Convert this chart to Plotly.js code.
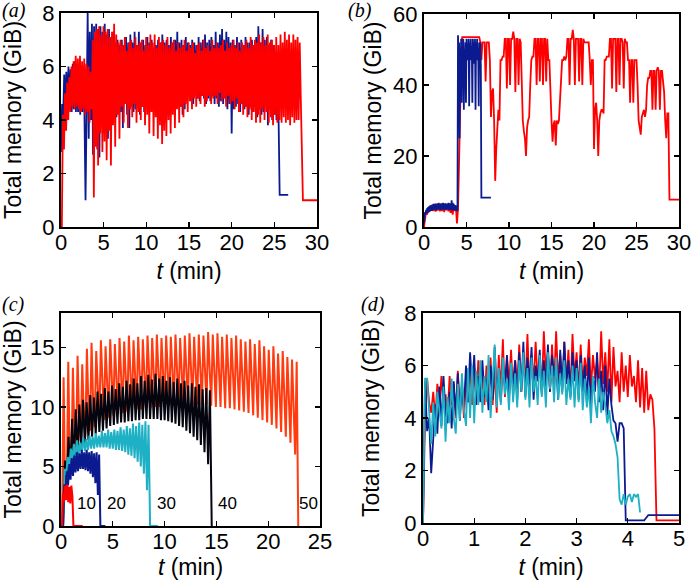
<!DOCTYPE html>
<html><head><meta charset="utf-8">
<script src="https://cdn.plot.ly/plotly-3.0.1.min.js"></script>
<style>html,body{margin:0;padding:0;background:#fff}#chart{width:692px;height:580px}</style>
</head><body><div id="chart"></div>
<script>
// ---------- sampling (start time, interval in min) ----------
const dtA = 0.125, t0RedA = 0.1, t0BlueA = 0;
const dtRedB = 0.125, t0RedB = 0, dtBlueB = 0.0625, t0BlueB = 0;
const dtOrangeC = 0.15, t0OrangeC = 0.1;
const dtBlackC = 0.175, t0BlackC = 0.2;
const dtCyanC = 0.15, t0CyanC = 0.2;
const dtNavyC = 0.12, t0NavyC = 0.2;
const dtRedC = 0.1, t0RedC = 0.1;
const dtD = 0.04, t0D = 0;

// ---------- panel (a) : total memory (GiB) ----------
const redA = [
 0,4.2,2.9,5.0,3.6,5.4,4.0,5.6,
 4.3,6.0,4.5,6.2,4.4,6.4,4.5,6.3,
 4.4,6.4,4.3,6.2,4.4,6.3,4.2,6.1,
 4.3,6.0,3.9,5.8,4.4,7.0,1.1,7.3,
 3.0,7.4,2.3,7.5,3.5,7.2,2.8,7.5,
 3.2,7.3,2.5,7.4,3.6,7.1,2.3,7.3,
 3.8,7.6,3.0,7.2,4.2,6.9,3.3,7.0,
 4.5,6.8,3.9,7.1,4.6,6.6,3.7,6.9,
 4.4,7.0,4.1,6.7,4.6,7.1,3.9,6.8,
 4.3,6.9,4.0,7.0,4.5,6.6,3.8,7.1,
 4.2,6.8,3.5,7.2,4.3,6.9,3.4,7.2,
 4.1,6.7,3.3,7.1,3.8,6.9,3.1,7.0,
 3.6,6.8,3.4,7.1,4.0,6.7,3.5,6.9,
 4.2,7.0,3.7,6.6,4.4,6.9,3.9,6.7,
 4.5,6.8,4.1,7.0,4.6,6.6,4.3,6.9,
 4.7,6.7,4.4,6.9,4.8,6.5,4.5,6.8,
 4.8,6.9,4.6,6.6,4.9,7.0,4.5,6.7,
 4.7,6.8,4.9,6.6,4.6,7.0,4.8,6.7,
 4.9,6.9,4.6,6.7,5.0,6.8,4.7,7.0,
 4.8,6.6,4.5,6.9,4.9,6.7,4.6,6.8,
 4.7,7.0,4.4,6.7,4.8,6.9,4.3,6.6,
 4.6,6.9,4.2,6.8,4.5,7.0,4.1,6.7,
 4.4,7.1,4.0,6.8,4.3,7.0,3.9,6.9,
 4.2,7.2,3.9,6.9,4.4,7.1,4.0,6.8,
 4.3,7.2,3.9,6.9,4.1,7.0,3.8,6.8,
 4.2,7.1,3.9,6.8,4.0,7.2,3.9,6.9,
 4.1,7.3,3.9,7.0,4.0,7.2,3.8,6.9,
 4.1,7.2,3.9,7.0,4.0,7.1,4.0,6.9,
 4.8,3.0,1.0,1.0,1.0,1.0,1.0,1.0,1.0,1.0,1.0,1.0,1.0,1.0,1.0,1.0,1.0
];
const blueA = [
 2.8,4.6,4.0,5.7,4.5,5.8,4.4,6.0,
 4.5,5.9,4.3,6.1,4.4,6.2,4.3,6.0,
 4.3,6.1,4.2,6.0,4.3,5.9,4.2,1.0,
 4.4,8.0,3.3,7.3,4.0,7.6,2.7,7.5,
 3.4,7.6,2.9,7.4,2.6,7.5,3.8,7.3,
 3.5,7.6,4.0,7.2,3.3,7.4,4.2,7.1,
 4.0,7.3,4.4,6.9,4.1,7.0,4.5,6.8,
 4.3,7.0,3.7,6.8,4.6,7.1,4.2,6.9,
 3.7,7.2,4.5,6.9,4.3,7.3,4.4,6.8,
 4.6,7.3,4.2,6.9,4.5,7.0,4.3,6.8,
 4.6,7.1,4.4,6.9,4.5,7.0,4.7,6.7,
 4.4,6.8,4.6,7.0,4.5,6.9,4.7,7.2,
 4.8,6.9,4.5,7.0,4.7,6.8,4.6,7.1,
 4.8,6.9,4.6,7.0,4.7,7.3,4.8,6.9,
 4.5,7.0,4.2,6.8,4.4,7.1,4.7,6.9,
 4.9,6.8,4.7,7.0,4.6,6.9,5.0,6.8,
 4.8,7.1,4.7,6.9,4.9,7.0,4.8,7.2,
 4.6,6.9,4.8,7.0,4.7,7.1,4.9,6.8,
 4.6,7.3,4.8,6.9,4.5,7.2,4.7,7.4,
 4.6,7.0,4.8,7.3,4.4,7.1,4.6,6.9,
 3.5,7.0,4.4,6.8,4.5,7.1,4.6,6.9,
 4.3,7.0,4.6,6.8,4.4,7.1,4.5,6.9,
 4.2,6.9,4.5,7.0,4.3,6.8,4.5,7.1,
 4.1,7.5,4.4,6.9,4.2,7.4,4.3,7.0,
 4.5,7.1,3.8,6.8,4.4,7.0,4.0,6.8,
 4.2,6.5,4.0,5.0,4.0,1.2,1.2,1.2,1.2,1.2,1.2,1.2,1.2,1.2
];

// ---------- panel (b) ----------
const redB = [
 0,3.0,4.5,3.5,5.5,4.2,6.0,4.8,
 6.2,4.5,6.5,4.3,6.3,4.6,6.8,4.4,
 6.4,4.5,6.6,4.2,6.5,4.7,6.3,4.4,
 6.5,4.0,6.2,3.5,6.0,4.5,6.0,1.0,
 5,18,35,47,53.5,53.5,53.5,53.5,
 53.5,53.5,53.5,53.5,53.5,53.5,53.5,53.5,
 53.5,53.5,53.5,53.5,53.5,52,47,52,
 52,52,41,52,52,52,47,31,
 38,39,30,13,22,28,33,30,
 47,47,48,48,53,53,39,53,
 53,40,53,53,55,53,38,53,
 53,40,53,52,40,30,27,25,
 20,28,30,31,40,47,48,48,
 53,53,40,53,53,41,53,53,
 40,53,53,41,53,47,47,36,
 30,24,29,30,23,30,29,30,
 35,40,47,47,48,47,48,53,
 53,40,53,53,55.5,53,40,53,
 53,53,41,53,53,40,53,52,
 52,52,52,52,47,40,47,47,
 22,33,35,30,20,30,32,33,
 33,32,47,47,48,48,48,53,
 53,39,53,53,53,38,53,53,
 40,53,53,52,39,53,52,52,
 47,47,35,47,47,35,47,47,
 47,40,30,28,26,31,32,33,
 31,33,40,42,42,44,44,33,
 44,44,33,44,45,44,33,44,
 44,40,38,30,25,32,32,7.7,
 7.7,7.7,7.7,7.7,7.7,7.7,7.7,7.7,7.7
];
const blueB = [
 1.0,3.0,4.2,3.5,4.8,3.8,5.3,4.0,5.6,4.3,5.9,4.4,6.0,4.6,6.2,4.5,
 6.3,4.8,6.5,4.9,6.4,5.0,6.6,4.7,6.5,5.0,6.7,4.9,6.6,5.1,6.5,4.8,
 6.7,5.0,6.6,4.9,6.8,5.1,6.5,4.8,6.7,5.0,6.6,4.9,6.5,5.1,6.8,4.8,
 6.7,5.0,6.6,4.8,7.5,4.6,6.8,4.9,6.5,4.7,6.2,4.8,6.0,4.5,5.8,4.5,
 54,48,52,25,50,47,53,35,51,48,53,33,50,47,52,35,
 53,48,51,47,53,34,52,48,53,47,51,35,53,48,52,46,
 53,33,52,48,53,47,50,34,52,48,52,45,8.3,8.3,8.3,8.3,
 8.3,8.3,8.3,8.3,8.3,8.3,8.3,8.3,8.3,8.3,8.3,8.3,8.3,8.3,8.3
];

// ---------- panel (c) ----------
const orangeC = [
 0,12.5,3.0, 2.5,13.8,5.5, 5.0,13.3,7.5, 6.2,14.3,8.8, 7.0,13.6,9.4,
 7.6,14.9,10.0, 8.0,15.4,10.5, 8.3,14.7,10.9, 8.7,15.6,11.3, 8.9,15.1,11.6,
 9.1,15.7,11.8, 9.3,15.3,12.0, 9.4,15.8,12.2, 9.5,15.5,12.4, 9.6,16.0,12.5,
 9.7,15.6,12.6, 9.8,15.9,12.7, 9.8,15.7,12.8, 9.9,16.0,12.9, 9.9,15.8,12.9,
 10.0,16.1,13.0, 10.0,15.8,13.0, 10.0,16.0,13.1, 10.1,15.9,13.1, 10.1,16.1,13.2,
 10.1,15.8,13.2, 10.2,16.0,13.2, 10.2,16.2,13.3, 10.2,15.9,13.3, 10.2,16.1,13.3,
 10.2,16.0,13.3, 10.2,16.3,13.3, 10.1,16.1,13.2, 10.0,16.2,13.2, 10.0,15.9,13.1,
 9.9,16.1,13.0, 9.9,15.8,12.9, 9.8,16.0,12.8, 9.7,15.7,12.7, 9.6,15.5,12.6,
 9.5,15.7,12.4, 9.3,15.3,12.2, 9.1,15.6,12.0, 8.9,15.1,11.7, 8.7,14.8,11.4,
 8.5,15.1,11.1, 8.2,14.5,10.8, 7.9,14.7,10.4, 7.5,14.2,9.9, 7.0,14.0,9.3,
 6.0,13.8,0
];
const blackC = [
 0,5.5, 3.0,7.5, 4.5,9.0, 5.3,9.8, 6.0,10.2, 6.5,10.6, 6.8,10.4, 7.2,11.0,
 7.5,10.8, 7.7,11.3, 7.9,11.1, 8.0,11.6, 8.2,11.3, 8.4,11.8, 8.5,11.5, 8.6,12.0,
 8.7,11.7, 8.7,12.2, 8.8,11.9, 8.8,12.4, 8.9,12.0, 8.9,12.6, 9.0,12.2, 9.0,12.7,
 9.0,12.3, 9.0,12.8, 9.0,12.4, 8.9,12.6, 8.9,12.2, 8.8,12.5, 8.7,12.1, 8.6,12.4,
 8.4,12.0, 8.3,12.2, 8.0,11.8, 7.8,12.0, 7.5,11.7, 7.2,11.9, 6.8,11.5, 6.2,11.6,
 5.2,11.4, 0
];
const cyanC = [
 0,4.8, 4.3,5.8, 5.0,6.5, 5.5,6.9, 5.8,7.2, 6.0,7.0, 6.2,7.4, 6.3,7.3, 6.4,7.6,
 6.5,7.5, 6.5,7.8, 6.6,7.6, 6.6,8.0, 6.6,7.8, 6.6,8.1, 6.5,7.9, 6.5,8.1, 6.4,8.0,
 6.4,8.3, 6.3,8.1, 6.2,8.4, 6.0,8.2, 5.9,8.6, 5.7,8.4, 5.4,8.7, 5.0,8.5, 4.4,8.8,
 3.0,8.5, 0,0,0,0,0,0
];
const navyC = [
 0,3.5, 2.8,4.6, 3.4,5.2, 3.9,5.7, 4.2,5.9, 4.5,6.2, 4.6,6.1, 4.8,6.4, 4.8,6.2,
 4.7,6.4, 4.6,6.2, 4.4,6.3, 4.1,6.1, 3.6,6.2, 2.6,6.0, 0,0,0,0,0
];
const redC = [0,2.8,2.0,3.4,2.2,3.5,2.0,3.3,1.9,3.4,2.5,0,0,0,0,0,0,0,0,0,0];
const runLabelsC = ['10','20','30','40','50'];
const runLabelPosC = [1.35, 4.23, 9.1, 15.0, 22.8];

// ---------- panel (d) ----------
const redD = [
 0,4.0,5.5,4.6,4.2,5.0,4.0,5.3,4.4,5.6,4.5,4.9,4.1,5.6,4.5,5.3,4.0,5.8,4.4,5.2,4.0,5.5,4.6,6.0,4.5,
 5.9,4.6,6.2,4.8,5.5,4.5,6.0,5.0,6.3,4.5,5.8,4.2,6.4,5.0,7.0,4.8,6.3,5.2,6.6,4.9,6.2,5.1,6.8,5.0,6.5,
 5.2,7.2,5.0,6.4,5.3,6.9,5.4,6.2,5.0,7.3,5.6,6.5,5.0,6.8,5.2,7.3,5.4,6.4,5.0,6.9,5.3,6.6,4.9,7.2,5.5,
 6.5,5.0,6.8,5.2,6.3,5.6,7.0,5.1,6.4,5.5,6.2,4.9,7.3,5.3,6.5,5.0,7.0,4.6,6.7,5.2,5.8,4.6,6.5,5.0,6.0,
 4.8,6.4,5.2,5.6,4.6,6.2,4.4,5.9,4.2,5.8,4.3,4.9,4.7,3.6,0.1,
 0.1,0.1,0.1,0.1,0.1,0.1,0.1,0.1,0.1,0.1,0.1
];
const navyD = [
 0,5.4,3.5,4.0,1.9,3.0,4.5,3.4,5.2,3.7,5.6,4.2,3.8,5.0,3.6,5.4,4.1,5.7,3.9,5.3,4.4,6.0,4.6,6.5,5.1,
 6.4,4.5,5.6,4.6,6.2,4.8,5.5,4.3,6.0,4.7,6.7,5.0,5.6,4.6,6.1,5.2,6.4,4.8,5.8,5.3,6.2,4.7,6.5,5.0,6.9,
 4.8,6.3,5.3,6.7,4.7,6.0,5.4,6.6,4.9,6.2,5.2,6.8,5.0,6.4,5.6,6.1,4.7,6.6,5.1,6.9,5.3,6.2,4.8,6.5,5.4,
 6.2,4.7,6.4,5.0,6.0,4.6,6.3,4.4,5.6,5.0,6.5,4.6,5.8,4.3,6.0,4.1,5.5,4.5,3.9,3.8,3.1,3.8,3.8,3.6,0.1,
 0.1,0.1,0.1,0.1,0.1,0.1,0.1,0.1,0.1,0.2,
 0.3,0.3,0.3,0.3,0.3,0.3,0.3,0.3,0.3,0.3,0.3,0.3,0.3,0.3,0.3,0.3
];
const cyanD = [
 0,5.5,5.5,4.0,3.0,4.6,3.3,5.0,4.2,3.6,5.2,3.1,4.8,3.8,5.5,4.0,3.4,5.3,3.9,5.7,4.3,3.7,5.9,4.0,6.0,
 3.8,5.8,4.5,6.2,4.2,5.6,4.6,6.4,4.0,5.4,6.8,4.4,5.9,4.5,6.3,4.9,5.5,4.3,6.1,4.6,5.7,4.4,6.2,5.0,6.5,
 4.7,5.9,4.4,6.3,5.0,5.6,4.5,6.4,4.8,5.8,4.4,6.5,5.1,6.0,4.6,6.3,4.7,5.7,4.9,6.2,4.5,5.5,4.7,6.0,4.4,
 5.9,4.6,6.1,4.3,5.5,4.4,5.2,3.8,5.6,4.6,4.0,5.5,4.2,5.0,4.5,3.8,4.3,3.5,3.3,3.0,
 2.5,0.9,0.7,1.1,0.7,1.0,1.1,0.8,1.1,1.0,1.1,0.4
];

// ---------- styling ----------
const RED = '#ff0000', NAVY = '#0b1b8f', CYAN = '#1eb0c4', ORANGE = '#ff3b0f', BLACK = '#05050f';
const SANS = 'Liberation Sans, Arial, sans-serif';
const SERIF = 'Liberation Serif, Times New Roman, serif';

function line(y, x0, dx, color, xa, ya, w) {
  return {type:'scatter', mode:'lines', y:y, x0:x0, dx:dx, xaxis:xa, yaxis:ya,
          line:{color:color, width:w}, hoverinfo:'skip', showlegend:false};
}

const traces = [
  line(blueA, t0BlueA, dtA, NAVY, 'x', 'y', 1.8),
  line(redA, t0RedA, dtA, RED, 'x', 'y', 1.8),
  line(redB, t0RedB, dtRedB, RED, 'x2', 'y2', 1.8),
  line(blueB, t0BlueB, dtBlueB, NAVY, 'x2', 'y2', 1.8),
  line(orangeC, t0OrangeC, dtOrangeC, ORANGE, 'x3', 'y3', 2.0),
  line(blackC, t0BlackC, dtBlackC, BLACK, 'x3', 'y3', 2.0),
  line(cyanC, t0CyanC, dtCyanC, CYAN, 'x3', 'y3', 2.0),
  line(navyC, t0NavyC, dtNavyC, NAVY, 'x3', 'y3', 2.0),
  line(redC, t0RedC, dtRedC, RED, 'x3', 'y3', 2.0),
  line(redD, t0D, dtD, RED, 'x4', 'y4', 1.8),
  line(navyD, t0D, dtD, NAVY, 'x4', 'y4', 1.8),
  line(cyanD, t0D, dtD, CYAN, 'x4', 'y4', 1.8)
];

function ax(extra) {
  return Object.assign({
    showline:true, mirror:'ticks', linecolor:'#000', linewidth:2,
    ticks:'inside', ticklen:5, tickwidth:1.3, tickcolor:'#000',
    showgrid:false, zeroline:false, fixedrange:true,
    tickfont:{family:SANS, size:22, color:'#000'}
  }, extra);
}
const xTitle = (s) => ({text:'<i>t</i> (min)', font:{family:SANS, size:23, color:'#000'}, standoff:s});
const yTitle = (s) => ({text:'Total memory (GiB)', font:{family:SANS, size:23, color:'#000'}, standoff:s});

const annotations = [];
const panelLabels = ['(a)','(b)','(c)','(d)'];
const panelLabelPos = [[0,10],[346,10],[0,304],[359,304]];
panelLabels.forEach((s,i) => annotations.push({
  xref:'paper', yref:'paper', x:panelLabelPos[i][0]/692, y:1-panelLabelPos[i][1]/580,
  xanchor:'left', yanchor:'middle', showarrow:false, text:'<i>'+s+'</i>',
  font:{family:SERIF, size:20, color:'#000'}
}));
runLabelsC.forEach((s,i) => annotations.push({
  xref:'x3', yref:'y3', x:runLabelPosC[i], y:1.9, xanchor:'left', yanchor:'middle',
  showarrow:false, text:s, font:{family:SANS, size:17, color:'#000'}
}));

const layout = {
  width:692, height:580, margin:{l:0, r:0, t:0, b:0},
  paper_bgcolor:'#fff', plot_bgcolor:'#fff', showlegend:false,
  xaxis: ax({domain:[61/692, 317/692], anchor:'y', range:[0,30], dtick:5, ticklabelstandoff:-5, title:xTitle(8)}),
  yaxis: ax({domain:[1-227/580, 1-13/580], anchor:'x', range:[0,8], dtick:2, title:yTitle(19)}),
  xaxis2: ax({domain:[424/692, 679/692], anchor:'y2', range:[0,30], dtick:5, ticklabelstandoff:-5, title:xTitle(8)}),
  yaxis2: ax({domain:[1-227/580, 1-14/580], anchor:'x2', range:[0,60], dtick:20, title:yTitle(5)}),
  xaxis3: ax({domain:[61/692, 320/692], anchor:'y3', range:[0,25], dtick:5, ticklabelstandoff:-5, title:xTitle(8)}),
  yaxis3: ax({domain:[1-526/580, 1-313/580], anchor:'x3', range:[0,17.9], dtick:5, title:yTitle(9)}),
  xaxis4: ax({domain:[423/692, 679/692], anchor:'y4', range:[0,5], dtick:1, ticklabelstandoff:-5, title:xTitle(8)}),
  yaxis4: ax({domain:[1-523/580, 1-313/580], anchor:'x4', range:[0,8], dtick:2, title:yTitle(18)}),
  annotations: annotations
};

Plotly.newPlot('chart', traces, layout, {staticPlot:true, displayModeBar:false});
</script></body></html>
